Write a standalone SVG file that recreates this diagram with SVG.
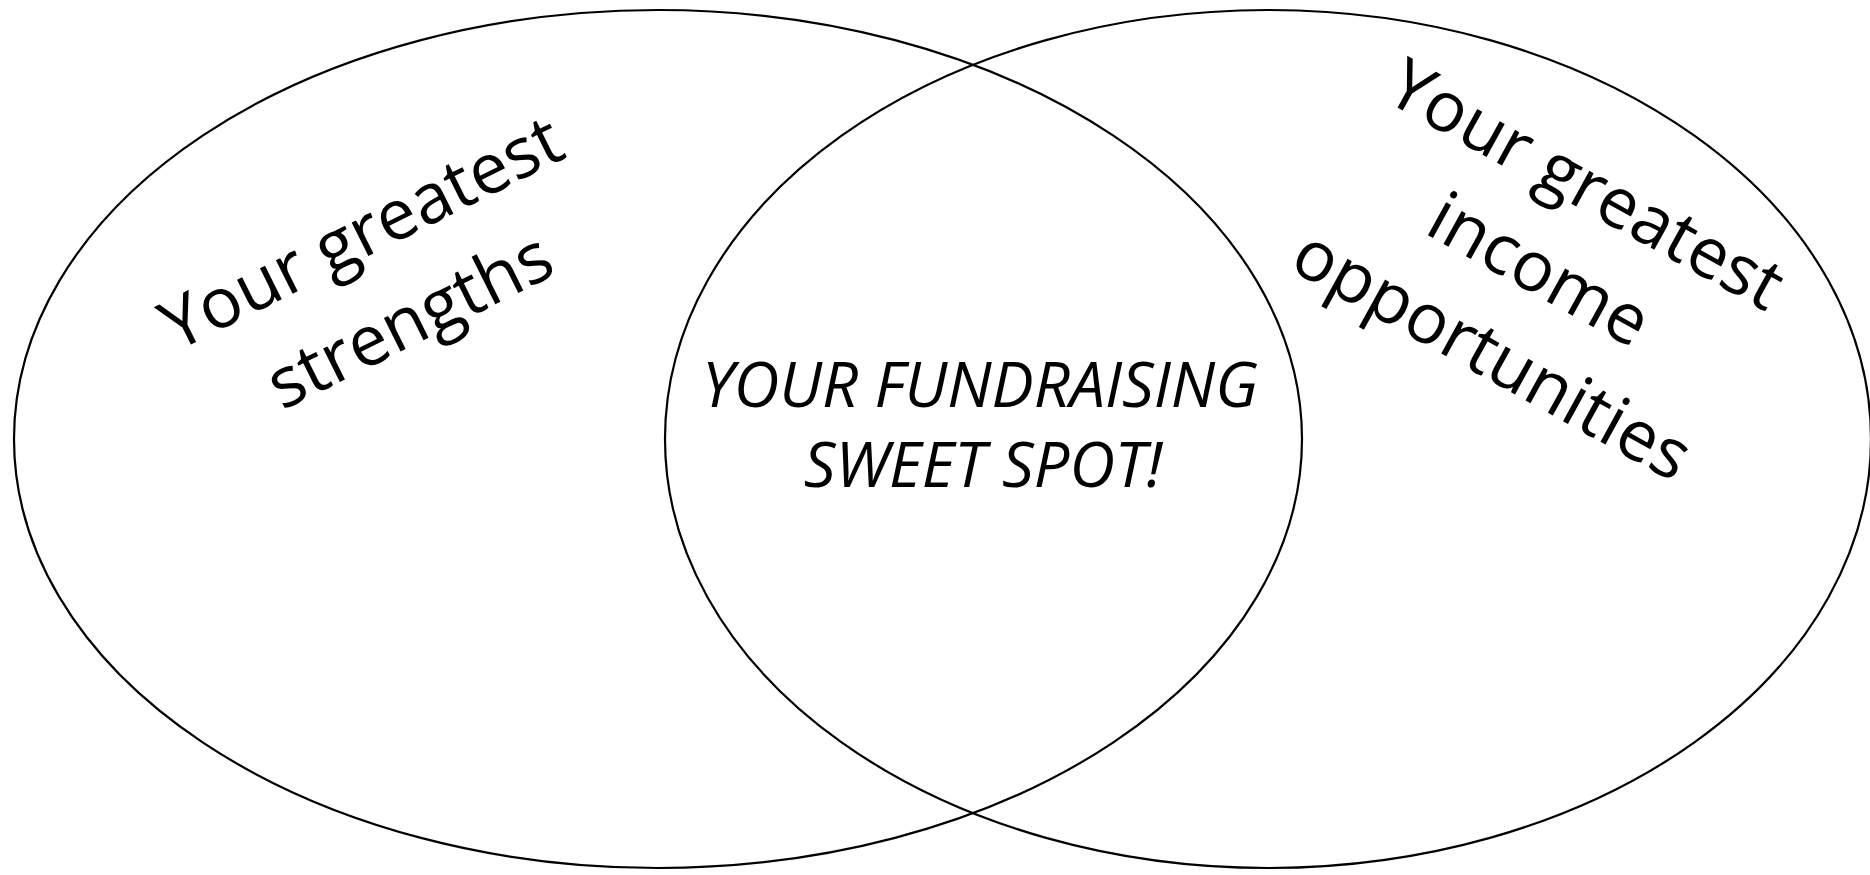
<svg xmlns="http://www.w3.org/2000/svg" width="1870" height="875" viewBox="0 0 1870 875">
  <style>
    .ring { fill: none; stroke: #000; stroke-width: 2.2; }
    .label { font-family: "Open Sans", "Liberation Sans", sans-serif; font-size: 70px; fill: #000; text-anchor: middle; }
    .core { font-family: "Open Sans", "Liberation Sans", sans-serif; font-size: 63px; font-style: italic; fill: #000; text-anchor: middle; }
  </style>
  <rect width="1870" height="875" fill="#fff"/>
  <g id="strengths">
    <ellipse class="ring" cx="658" cy="439" rx="644" ry="429"/>
    <g transform="translate(390,281) rotate(-26.5)">
      <text class="label" x="-4" y="-32">Your greatest</text>
      <text class="label" x="0" y="68">strengths</text>
    </g>
  </g>
  <g id="opportunities">
    <ellipse class="ring" cx="1268" cy="439" rx="603" ry="429"/>
    <g transform="translate(1537,274) rotate(29)">
      <text class="label" x="0" y="-78">Your greatest</text>
      <text class="label" x="0" y="19">income</text>
      <text class="label" x="0" y="116">opportunities</text>
    </g>
  </g>
  <g id="sweet-spot">
    <text class="core" x="980" y="407">YOUR FUNDRAISING</text>
    <text class="core" x="983" y="487">SWEET SPOT!</text>
  </g>
  <g id="connectors"/>
</svg>
